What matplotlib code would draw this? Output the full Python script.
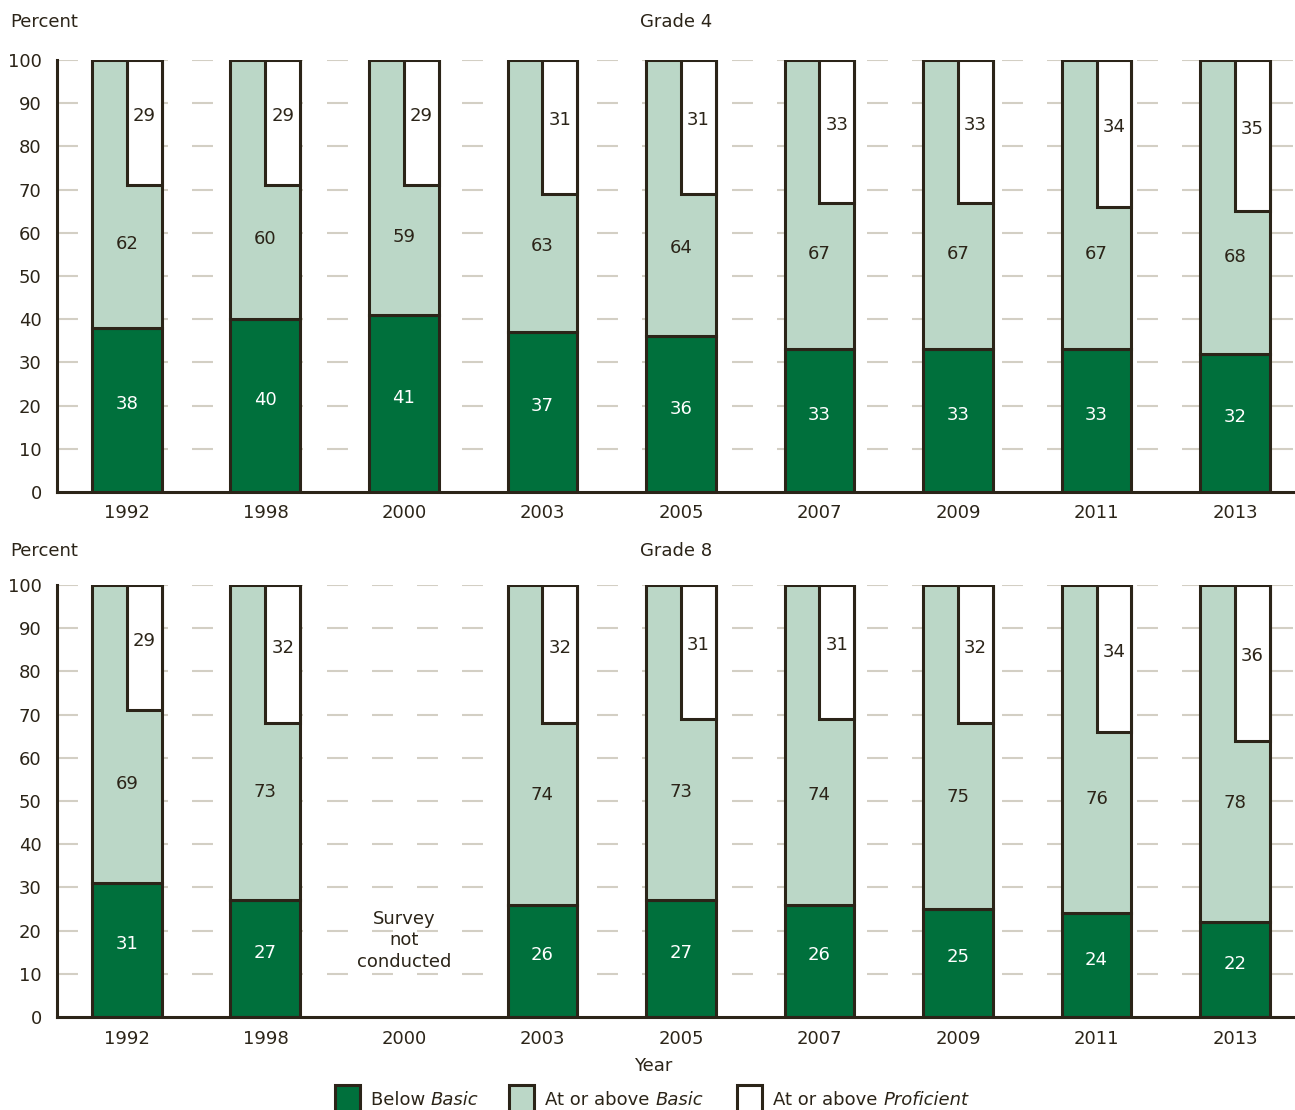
import matplotlib
matplotlib.use("Agg")
import matplotlib.pyplot as plt
from matplotlib.patches import Rectangle

# Achievement-level percentages by assessment year
years = ["1992", "1998", "2000", "2003", "2005", "2007", "2009", "2011", "2013"]

g4_below_basic = [38, 40, 41, 37, 36, 33, 33, 33, 32]
g4_at_above_basic = [62, 60, 59, 63, 64, 67, 67, 67, 68]
g4_at_above_proficient = [29, 29, 29, 31, 31, 33, 33, 34, 35]

g8_below_basic = [31, 27, None, 26, 27, 26, 25, 24, 22]
g8_at_above_basic = [69, 73, None, 74, 73, 74, 75, 76, 78]
g8_at_above_proficient = [29, 32, None, 32, 31, 31, 32, 34, 36]

y_ticks = [0, 10, 20, 30, 40, 50, 60, 70, 80, 90, 100]
legend_labels = [("Below ", "Basic"), ("At or above ", "Basic"), ("At or above ", "Proficient")]

DARK = "#00703c"
LIGHT = "#bbd7c7"
EDGE = "#2b2418"
TEXT = "#2b2418"
GRID = "#d3cfc4"
FS = 13

plt.rcParams["font.family"] = ["DejaVu Sans"]
plt.rcParams["lines.scale_dashes"] = False

fig = plt.figure(figsize=(12.95, 11.10), dpi=100)

W = 0.505  # wide bar width
LW = 2.2


def draw_panel(ax, below, basic, prof):
    x = list(range(len(years)))
    for yv in y_ticks[1:]:
        ax.axhline(yv, color=GRID, lw=1.5, linestyle=(0, (15.1, 17.3)), zorder=0)
    for i, (b, a, p) in enumerate(zip(below, basic, prof)):
        if b is None:
            continue
        ax.bar(i, b, width=W, color=DARK, edgecolor=EDGE, linewidth=LW, zorder=2)
        ax.bar(i, a, bottom=b, width=W, color=LIGHT, edgecolor=EDGE, linewidth=LW, zorder=2)
        ax.bar(i, p, bottom=100 - p, width=W / 2, align="edge", color="white",
               edgecolor=EDGE, linewidth=LW, zorder=3)
        ax.text(i, b / 2 + 1.3, str(b), ha="center", va="center", color="white",
                fontsize=FS, zorder=4)
        ax.text(i, (b + 100) / 2 - 11.5, str(a), ha="center", va="center", color=TEXT,
                fontsize=FS, zorder=4)
        ax.text(i + W / 4, 100 - p / 2 + 1.5, str(p), ha="center", va="center", color=TEXT,
                fontsize=FS, zorder=4)
    ax.set_xlim(-0.505, 8.433)
    ax.set_ylim(0, 100)
    ax.set_xticks(x)
    ax.set_xticklabels(years)
    ax.set_yticks(y_ticks)
    ax.tick_params(axis="both", length=0, labelsize=FS, colors=TEXT)
    ax.tick_params(axis="x", pad=9)
    ax.tick_params(axis="y", pad=11)
    for lbl in ax.get_yticklabels():
        lbl.set_horizontalalignment("right")
    for s in ("top", "right"):
        ax.spines[s].set_visible(False)
    for s in ("left", "bottom"):
        ax.spines[s].set_color(EDGE)
        ax.spines[s].set_linewidth(2.2)
        ax.spines[s].set_zorder(5)


ax1 = fig.add_axes([57 / 1295, (1110 - 492) / 1110, 1 - 57 / 1295, 432 / 1110])
ax2 = fig.add_axes([57 / 1295, (1110 - 1017) / 1110, 1 - 57 / 1295, 432 / 1110])

draw_panel(ax1, g4_below_basic, g4_at_above_basic, g4_at_above_proficient)
draw_panel(ax2, g8_below_basic, g8_at_above_basic, g8_at_above_proficient)

ax2.text(2, 17.8, "Survey\nnot\nconducted", ha="center", va="center", color=TEXT,
         fontsize=FS, linespacing=1.25)


def px(x, y):
    return x / 1295, 1 - y / 1110


fig.text(*px(10, 22), "Percent", ha="left", va="center", fontsize=FS, color=TEXT)
fig.text(*px(676, 22), "Grade 4", ha="center", va="center", fontsize=FS, color=TEXT)
fig.text(*px(10, 551), "Percent", ha="left", va="center", fontsize=FS, color=TEXT)
fig.text(*px(676, 551), "Grade 8", ha="center", va="center", fontsize=FS, color=TEXT)
fig.text(*px(653, 1066), "Year", ha="center", va="center", fontsize=FS, color=TEXT)

# Legend drawn by hand: swatch, then plain + italic text
swatch_x = [335, 509, 737]
swatch_colors = [DARK, LIGHT, "white"]
fig.canvas.draw()
renderer = fig.canvas.get_renderer()
for sx, col, (plain, ital) in zip(swatch_x, swatch_colors, legend_labels):
    fig.add_artist(Rectangle(px(sx, 1112), 25 / 1295, 27 / 1110, transform=fig.transFigure,
                             facecolor=col, edgecolor=EDGE, linewidth=2.2, clip_on=False))
    t = fig.text(*px(sx + 36, 1100), plain, ha="left", va="center", fontsize=FS, color=TEXT)
    bb = t.get_window_extent(renderer)
    fig.text(bb.x1 / fig.bbox.width, 1 - 1100 / 1110, ital, ha="left", va="center",
             fontsize=FS, color=TEXT, style="italic")

fig.savefig("out.png", dpi=100)
